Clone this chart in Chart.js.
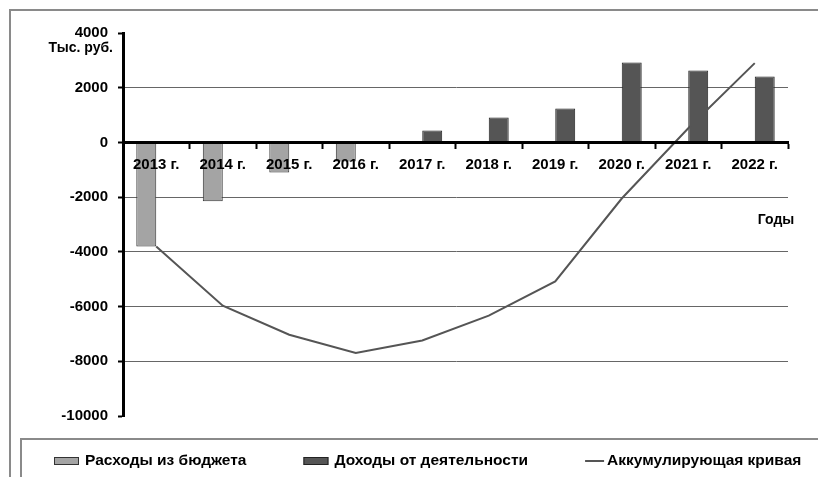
<!DOCTYPE html>
<html lang="ru">
<head>
<meta charset="utf-8">
<title>Расходы и доходы по годам</title>
<script src="https://cdn.jsdelivr.net/npm/chart.js@4.4.1/dist/chart.umd.min.js"></script>
<style>
  html, body { margin: 0; padding: 0; background: #fff; }
  #wrap { width: 818px; height: 477px; }
</style>
</head>
<body>
<div id="wrap"><canvas id="chart" width="818" height="477"></canvas></div>
<script>
const years = ['2013 г.', '2014 г.', '2015 г.', '2016 г.', '2017 г.', '2018 г.', '2019 г.', '2020 г.', '2021 г.', '2022 г.'];
const budgetSpending = [-3800, -2150, -1100, -700, null, null, null, null, null, null];
const activityIncome = [null, null, null, null, 440, 910, 1240, 2920, 2630, 2410];
const cumulative = [-3800, -5970, -7030, -7700, -7240, -6330, -5080, -2050, 520, 2900];
const yTicks = [4000, 2000, 0, -2000, -4000, -6000, -8000, -10000];

const FONT = "'Liberation Sans', Arial, sans-serif";
Chart.defaults.font.family = FONT;
Chart.defaults.color = '#000';

// frame, axis captions and the legend strip under the plot
const decorations = {
    id: 'decorations',
    afterDraw(chart) {
        const ctx = chart.ctx;
        ctx.save();
        ctx.strokeStyle = '#8a8a8a';
        ctx.lineWidth = 2;
        ctx.beginPath();
        ctx.moveTo(10, 477); ctx.lineTo(10, 10); ctx.lineTo(818, 10);
        ctx.moveTo(21, 477); ctx.lineTo(21, 439); ctx.lineTo(818, 439);
        ctx.stroke();

        ctx.fillStyle = '#000';
        ctx.font = 'bold 14px ' + FONT;
        ctx.textBaseline = 'middle';
        ctx.textAlign = 'right';
        ctx.fillText('Тыс. руб.', 113, 48);
        ctx.textAlign = 'center';
        ctx.fillText('Годы', 776, 220);

        let x = 54;
        const y = 461;
        ctx.font = 'bold 15.5px ' + FONT;
        ctx.textAlign = 'left';
        chart.data.datasets.forEach(ds => {
            if (ds.type === 'line') {
                ctx.strokeStyle = ds.borderColor;
                ctx.lineWidth = ds.borderWidth;
                ctx.beginPath();
                ctx.moveTo(x, y); ctx.lineTo(x + 19, y);
                ctx.stroke();
                x += 22;
            } else {
                ctx.fillStyle = ds.backgroundColor;
                ctx.fillRect(x, y - 4, 25, 8);
                ctx.strokeStyle = ds.borderColor;
                ctx.lineWidth = 1;
                ctx.strokeRect(x + 0.5, y - 3.5, 24, 7);
                x += 31;
            }
            ctx.fillStyle = '#000';
            ctx.fillText(ds.label, x, y);
            x += ctx.measureText(ds.label).width + 57;
        });
        ctx.restore();
    }
};

new Chart(document.getElementById('chart'), {
    type: 'bar',
    data: {
        labels: years,
        datasets: [{
            label: 'Расходы из бюджета',
            data: budgetSpending,
            backgroundColor: '#a4a4a4',
            borderColor: '#333',
            borderWidth: 1,
            order: 1
        }, {
            label: 'Доходы от деятельности',
            data: activityIncome,
            backgroundColor: '#555',
            borderColor: '#222',
            borderWidth: 1,
            order: 1
        }, {
            type: 'line',
            label: 'Аккумулирующая кривая',
            data: cumulative,
            borderColor: '#555',
            borderWidth: 2,
            pointRadius: 0,
            tension: 0,
            order: 0
        }]
    },
    options: {
        responsive: false,
        animation: false,
        events: [],
        layout: { padding: { left: 0, right: 30, top: 33, bottom: 61 } },
        datasets: { bar: { categoryPercentage: 0.6, barPercentage: 1 } },
        plugins: {
            legend: { display: false },
            tooltip: { enabled: false }
        },
        scales: {
            x: {
                position: { y: 0 },
                grid: {
                    drawOnChartArea: false,
                    tickLength: 5,
                    tickWidth: 2,
                    tickColor: '#000',
                    z: 1
                },
                border: { color: '#000', width: 3, z: 1 },
                ticks: {
                    z: 1,
                    padding: 8,
                    maxRotation: 0,
                    font: { size: 15, weight: 'bold' }
                }
            },
            y: {
                min: Math.min(...yTicks),
                max: Math.max(...yTicks),
                afterFit: scale => { scale.width = 123; },
                afterBuildTicks: scale => { scale.ticks = yTicks.map(v => ({ value: v })); },
                grid: {
                    color: c => (c.tick && (c.tick.value === 4000 || c.tick.value === -10000)) ? 'rgba(0,0,0,0)' : '#666',
                    lineWidth: 1,
                    tickLength: 5,
                    tickWidth: 2,
                    tickColor: '#000'
                },
                border: { color: '#000', width: 3 },
                ticks: {
                    padding: 10,
                    font: { size: 15, weight: 'bold' },
                    callback: v => String(v)
                }
            }
        }
    },
    plugins: [decorations]
});
</script>
</body>
</html>
